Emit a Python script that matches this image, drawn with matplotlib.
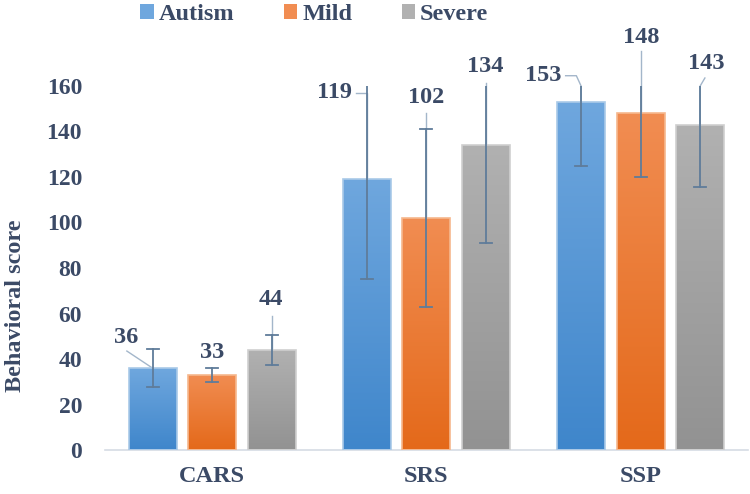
import numpy as np
import matplotlib
matplotlib.use("Agg")
import matplotlib.pyplot as plt
from matplotlib.patches import Patch
from matplotlib.colors import to_rgb

# data
groups = ['CARS', 'SRS', 'SSP']
series = ['Autism', 'Mild', 'Severe']
autism = [36, 119, 153]
mild = [33, 102, 148]
severe = [44, 134, 143]
autism_err = [8.5, 44, 28]
mild_err = [3, 39, 28]
severe_err = [6.7, 43, 27.5]

# style
tops = ['#6FA7DE', '#F18D52', '#B1B1B1']
bottoms = ['#3F86CB', '#E4691A', '#929292']
edges = ['#A9C9E8', '#F6B88E', '#CFCFCF']
text_col = '#3B4A66'
err_col = '#5F7C9A'
lead_col = '#A3B6CA'
ymax = 160

plt.rcParams['font.family'] = ['Liberation Serif', 'DejaVu Serif']
plt.rcParams['font.weight'] = 'bold'

fig = plt.figure(figsize=(7.5, 4.94), dpi=100)
ax = fig.add_axes([0.14, 0.089, 0.857, 0.737])

x = np.arange(len(groups))
width = 0.224
offsets = [-0.278, 0.0, 0.278]
values = [autism, mild, severe]
errors = [autism_err, mild_err, severe_err]

for i in range(3):
    grad = np.linspace(0, 1, 256)[:, None, None]
    top = np.array(to_rgb(tops[i]))
    bot = np.array(to_rgb(bottoms[i]))
    for j, v in enumerate(values[i]):
        xc = x[j] + offsets[i]
        bar = ax.bar(xc, v, width, facecolor='none', edgecolor=edges[i],
                     linewidth=1.2, zorder=3)[0]
        img = (top * (1 - grad) + bot * grad)
        im = ax.imshow(img, extent=[xc - width / 2, xc + width / 2, 0, v],
                       aspect='auto', zorder=2)
        im.set_clip_path(bar)
        # error bar, clipped at the axis maximum like Excel
        e = errors[i][j]
        hi = min(v + e, ymax)
        lo = v - e
        ax.plot([xc, xc], [lo, hi], color=err_col, lw=1.3, zorder=4)
        cap = 0.028
        ax.plot([xc - cap, xc + cap], [lo, lo], color=err_col, lw=1.3, zorder=4)
        if v + e <= ymax:
            ax.plot([xc - cap, xc + cap], [hi, hi], color=err_col, lw=1.3, zorder=4)

# data labels with leader lines (label x, label y)
label_pos = [
    [(-0.402, 49.6), (0.572, 157), (1.547, 164.5)],
    [(0.0, 43), (1.001, 155), (2.003, 181.5)],
    [(0.274, 66), (1.276, 168.5), (2.306, 170)],
]
leaders = [
    [[(-0.398, 43.5), (-0.278, 36)], [(0.67, 157), (0.722, 157), (0.722, 119)],
     [(1.65, 164.5), (1.70, 164.5), (1.722, 160), (1.722, 153)]],
    [None, [(1.0, 148), (1.0, 102)], [(2.0, 175.5), (2.0, 148)]],
    [[(0.278, 59), (0.278, 44)], [(1.278, 161.5), (1.278, 134)],
     [(2.30, 163.5), (2.278, 160), (2.278, 143)]],
]
for i in range(3):
    for j, v in enumerate(values[i]):
        lx, ly = label_pos[i][j]
        ax.text(lx, ly, str(v), ha='center', va='center', fontsize=17.5,
                color=text_col, fontweight='bold', clip_on=False, zorder=6)
        pts = leaders[i][j]
        if pts:
            xs, ys = zip(*pts)
            ax.plot(xs, ys, color=lead_col, lw=1.0, clip_on=False, zorder=1)

ax.set_xlim(-0.5, 2.5)
ax.set_ylim(0, ymax)
ax.set_yticks(range(0, 161, 20))
ax.set_xticks(x)
ax.set_xticklabels(groups)
ax.tick_params(axis='both', length=0, labelsize=17, colors=text_col)
ax.tick_params(axis='y', pad=16.5)
ax.tick_params(axis='x', pad=11.5, labelsize=17.5)
for s in ['top', 'right', 'left']:
    ax.spines[s].set_visible(False)
ax.spines['bottom'].set_color('#D6DCE4')
ax.spines['bottom'].set_linewidth(1.2)

fig.text(0.021, 0.381, 'Behavioral score', rotation=90, ha='center', va='center',
         fontsize=17.5, color=text_col, fontweight='bold')

handles = [Patch(facecolor=tops[i], edgecolor='none') for i in range(3)]
leg = fig.legend(handles, series, loc='center', bbox_to_anchor=(0.419, 0.971),
                 ncol=3, frameon=False, fontsize=17.5, handlelength=0.55,
                 handleheight=0.55, handletextpad=0.2, columnspacing=2.05,
                 borderaxespad=0, borderpad=0)
for t in leg.get_texts():
    t.set_color(text_col)

fig.savefig('out.png', dpi=100)
